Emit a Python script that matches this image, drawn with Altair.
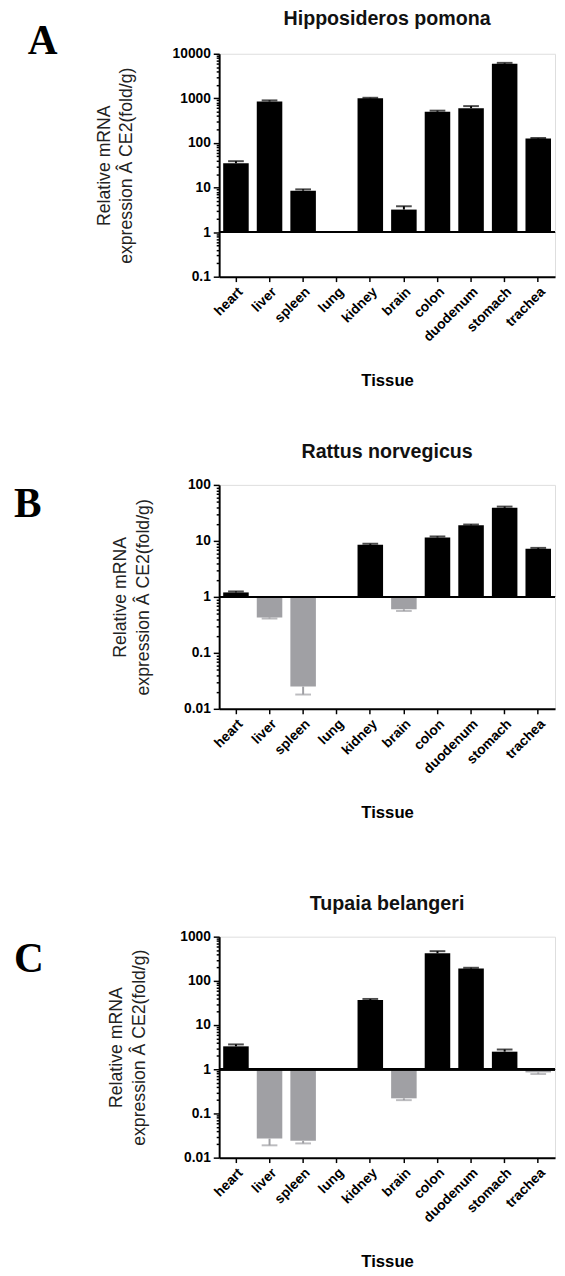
import altair as alt
import pandas as pd

tissues = ["heart", "liver", "spleen", "lung", "kidney", "brain", "colon", "duodenum", "stomach", "trachea"]

# Panel A: Hipposideros pomona
a_values = [35, 850, 8.5, None, 1000, 3.2, 500, 600, 6000, 125]
a_errors = [4, 50, 0.6, None, 30, 0.6, 30, 70, 250, 4]
# Panel B: Rattus norvegicus
b_values = [1.2, 0.43, 0.025, None, 8.5, 0.6, 11.5, 19, 39, 7.2]
b_errors = [0.05, 0.02, 0.007, None, 0.4, 0.04, 0.5, 0.6, 2, 0.3]
# Panel C: Tupaia belangeri
c_values = [3.3, 0.027, 0.024, None, 37, 0.22, 420, 190, 2.5, 0.85]
c_errors = [0.35, 0.008, 0.003, None, 2, 0.02, 50, 8, 0.3, 0.07]

titles = ["Hipposideros pomona", "Rattus norvegicus", "Tupaia belangeri"]
letters = ["A", "B", "C"]
a_decades = [0.1, 1, 10, 100, 1000, 10000]
b_decades = [0.01, 0.1, 1, 10, 100]
c_decades = [0.01, 0.1, 1, 10, 100, 1000]

y_title = ["Relative mRNA", "expression \u00c2 CE2(fold/g)"]

UP = "#000000"
DOWN = "#a0a0a4"
FONT = "Liberation Sans"
W = 342


def tick_values(decades):
    vals = []
    for d in decades[:-1]:
        vals.append(d)
        for k in range(2, 10):
            vals.append(k * d)
    vals.append(decades[-1])
    return vals


def panel(values, errors, decades, title, title_y, letter, letter_x, letter_y,
          height, x_title, x_title_lh, y_title_pad):
    df = pd.DataFrame({"tissue": tissues, "value": values, "err": errors}).dropna()
    dec = "[" + ",".join(repr(float(d)) if d < 1 else str(d) for d in decades) + "]"
    is_major = f"indexof({dec}, datum.value) >= 0"
    xenc = alt.X(
        "tissue:N",
        sort=tissues,
        scale=alt.Scale(domain=tissues, paddingInner=0.24, paddingOuter=0.12),
        axis=alt.Axis(
            title=x_title, labelAngle=-45, labelAlign="right", labelBaseline="top",
            labelFont=FONT, labelFontSize=14, labelFontWeight="bold", labelColor="#000",
            labelPadding=3, tickSize=5, tickWidth=1.5, tickColor="#000",
            domainColor="#000", domainWidth=2,
            titleFont=FONT, titleFontSize=17, titleFontWeight="bold", titleColor="#000",
            titlePadding=29, titleLineHeight=x_title_lh,
        ),
    )
    yscale = alt.Scale(type="log", domain=[decades[0], decades[-1]], nice=False)
    yaxis = alt.Axis(
        values=tick_values(decades),
        labelExpr=f"{is_major} ? '' + datum.value : ''",
        labelOverlap=False,
        tickSize={"condition": {"test": is_major, "value": 6}, "value": 3},
        tickWidth=1.5, tickColor="#000", domainColor="#000", domainWidth=2,
        labelFont=FONT, labelFontSize=14, labelFontWeight="bold", labelColor="#000",
        labelPadding=3, grid=False,
        title=y_title, titleFont=FONT, titleFontSize=18, titleFontWeight="normal",
        titleColor="#222", titleLineHeight=23, titlePadding=y_title_pad,
    )
    color = alt.condition("datum.value > 1", alt.value(UP), alt.value(DOWN))
    base = alt.Chart(df).transform_calculate(
        end="datum.value > 1 ? datum.value + datum.err : datum.value - datum.err"
    )
    bars = base.mark_bar().encode(
        x=xenc, y=alt.Y("value:Q", scale=yscale, axis=yaxis), y2=alt.datum(1), color=color
    )
    err = base.mark_rule(strokeWidth=2).encode(
        x=xenc, y=alt.Y("value:Q", scale=yscale, axis=yaxis), y2="end:Q", color=color
    )
    caps = base.mark_tick(thickness=2, size=16).encode(
        x=xenc, y=alt.Y("end:Q", scale=yscale, axis=yaxis), color=color
    )
    baseline = alt.Chart(df).mark_rule(color="#000", strokeWidth=2).encode(y=alt.datum(1))
    lab = alt.Chart(pd.DataFrame({"t": [letter]})).mark_text(
        font="Liberation Serif", fontWeight="bold", fontSize=42, align="left",
        baseline="alphabetic", color="#000"
    ).encode(text="t:N", x=alt.value(letter_x), y=alt.value(letter_y))
    ttl = alt.Chart(pd.DataFrame({"t": [title]})).mark_text(
        font=FONT, fontWeight="bold", fontSize=20, align="center",
        baseline="alphabetic", color="#111"
    ).encode(text="t:N", x=alt.value(W / 2), y=alt.value(title_y))
    return alt.layer(bars, err, caps, baseline, lab, ttl).properties(width=W, height=height)


pa = panel(a_values, a_errors, a_decades, titles[0], -29, letters[0], -195, 0, 227, "Tissue", 17, 37)
pb = panel(b_values, b_errors, b_decades, titles[1], -27, letters[1], -209, 33, 228, ["Tissue", ""], 20, 32)
pc = panel(c_values, c_errors, c_decades, titles[2], -27, letters[2], -209, 36, 225, "Tissue", 17, 32)

chart = alt.vconcat(pa, pb, pc, spacing=54).properties(
    padding={"left": 5, "top": -11, "right": 0, "bottom": 0}
).configure_view(stroke=None).configure(background="white")

chart.save("out.html", embed_options={"renderer": "svg", "actions": False})
